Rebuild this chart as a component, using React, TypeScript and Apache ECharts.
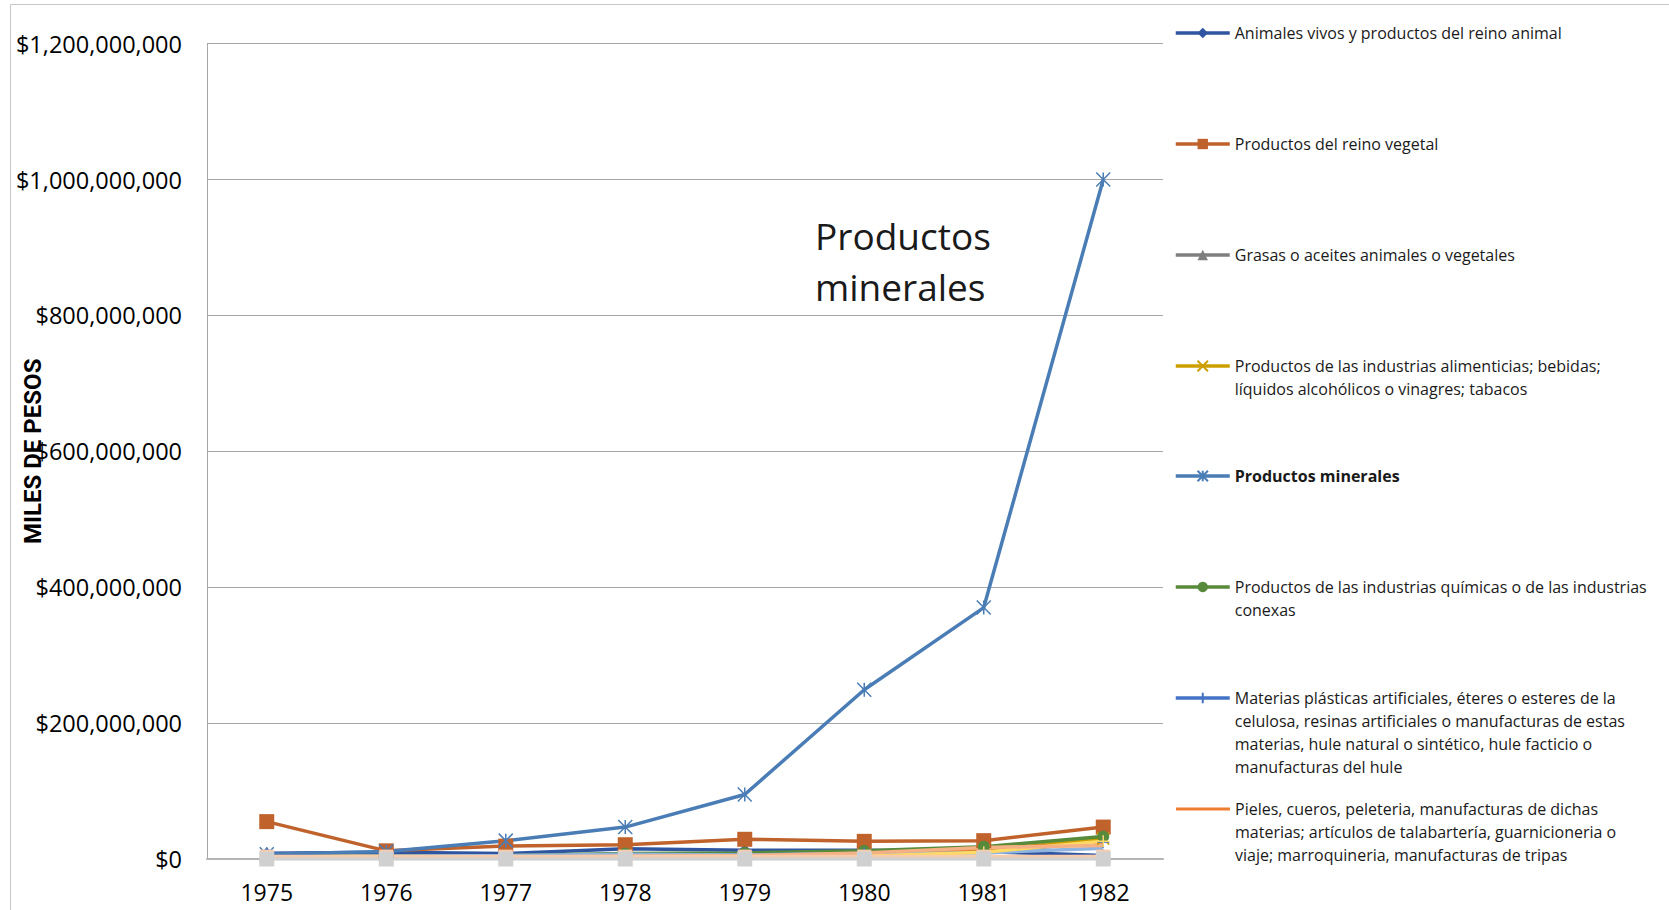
import React, { useEffect, useRef } from 'react';
import * as echarts from 'echarts';

const years = ['1975', '1976', '1977', '1978', '1979', '1980', '1981', '1982'];

// Miles de pesos
const animales = [8500000, 10000000, 8000000, 15000000, 13000000, 13000000, 11000000, 5000000];
const vegetal = [55000000, 12000000, 19000000, 21000000, 29000000, 26000000, 27000000, 47000000];
const grasas = [1000000, 1200000, 1500000, 1500000, 1000000, 1500000, 2000000, 3000000];
const alimenticias = [4000000, 4000000, 4000000, 5000000, 3000000, 6000000, 12000000, 30000000];
const minerales = [7000000, 11000000, 27000000, 47000000, 95000000, 249000000, 370000000, 1000000000];
const quimicas = [3000000, 4000000, 5000000, 8000000, 9000000, 12000000, 18000000, 33000000];
const plasticas = [2000000, 3000000, 3000000, 6000000, 6000000, 8000000, 10000000, 25000000];
const pieles = [1000000, 1500000, 2000000, 3000000, 4000000, 7000000, 16000000, 22000000];
const madera = [3000000, 4000000, 5000000, 7000000, 6000000, 8000000, 9000000, 16000000];
const papel = [1000000, 1000000, 1500000, 2000000, 2000000, 4000000, 10000000, 26000000];
const textiles = [2000000, 2000000, 3000000, 4000000, 5000000, 9000000, 17000000, 20000000];
const calzado = [1000000, 1000000, 1000000, 1000000, 1000000, 1000000, 1500000, 4000000];
const piedra = [3500000, 3500000, 3500000, 3500000, 3500000, 3500000, 3500000, 3500000];
const perlas = [0, 0, 0, 0, 0, 0, 0, 0];

const names = [
  'Animales vivos y productos del reino animal',
  'Productos del reino vegetal',
  'Grasas o aceites animales o vegetales',
  'Productos de las industrias alimenticias; bebidas; líquidos alcohólicos o vinagres; tabacos',
  'Productos minerales',
  'Productos de las industrias químicas o de las industrias conexas',
  'Materias plásticas artificiales, éteres o esteres de la celulosa, resinas artificiales o manufacturas de estas materias, hule natural o sintético, hule facticio o manufacturas del hule',
  'Pieles, cueros, peleteria, manufacturas de dichas materias; artículos de talabartería, guarnicioneria o viaje; marroquineria, manufacturas de tripas',
  'Madera, carbón vegetal, corcho y sus manufacturas',
  'Materias utilizadas en la fabricación de papel; papel y sus aplicaciones',
  'Materias textiles y sus manufacturas',
  'Calzado, sombrerería, paraguas y quitasoles',
  'Manufacturas de piedra, yeso, cemento, cerámica y vidrio',
  'Perlas finas, piedras preciosas y metales preciosos',
];

const wrapped = [
  'Animales vivos y productos del reino animal',
  'Productos del reino vegetal',
  'Grasas o aceites animales o vegetales',
  'Productos de las industrias alimenticias; bebidas;\nlíquidos alcohólicos o vinagres; tabacos',
  'Productos minerales',
  'Productos de las industrias químicas o de las industrias\nconexas',
  'Materias plásticas artificiales, éteres o esteres de la\ncelulosa, resinas artificiales o manufacturas de estas\nmaterias, hule natural o sintético, hule facticio o\nmanufacturas del hule',
  'Pieles, cueros, peleteria, manufacturas de dichas\nmaterias; artículos de talabartería, guarnicioneria o\nviaje; marroquineria, manufacturas de tripas',
];

const values = [animales, vegetal, grasas, alimenticias, minerales, quimicas, plasticas, pieles, madera, papel, textiles, calzado, piedra, perlas];

const STAR = 'path://M0,0L10,10M10,0L0,10M5,0L5,10';
const XMARK = 'path://M0,0L10,10M10,0L0,10';
const PLUS = 'path://M5,0L5,10M0,5L10,5';

const styles = [
  { color: '#2F55A0', symbol: 'diamond', size: 12 },
  { color: '#C0622B', symbol: 'rect', size: 15 },
  { color: '#7F7F7F', symbol: 'triangle', size: 12 },
  { color: '#CC9F00', symbol: XMARK, size: 12, stroke: true },
  { color: '#4A7DB5', symbol: STAR, size: 14, stroke: true },
  { color: '#578A3A', symbol: 'circle', size: 12 },
  { color: '#4472C4', symbol: PLUS, size: 12, stroke: true },
  { color: '#ED7D31', symbol: 'none', size: 0 },
  { color: '#8FB4E0', symbol: 'none', size: 0 },
  { color: '#FFD966', symbol: PLUS, size: 12, stroke: true },
  { color: '#F4B183', symbol: 'none', size: 0 },
  { color: '#7F8FC8', symbol: 'none', size: 0 },
  { color: '#F8CBAD', symbol: 'rect', size: 14 },
  { color: '#D0D0D0', symbol: 'rect', size: 15 },
];

const FONT = '"Open Sans", "Noto Sans", sans-serif';
const LEGEND_Y = [33, 144, 255, 366, 476, 587, 698, 809];
const LH = 23;

function fmt(v: number) {
  return '$' + Math.round(v).toString().replace(/\B(?=(\d{3})+(?!\d))/g, ',');
}

export default function App() {
  const ref = useRef<HTMLDivElement>(null);
  useEffect(() => {
    if (!ref.current) return;
    const chart = echarts.init(ref.current, null, { renderer: 'svg' });

    const series = values.map((d, i) => {
      const s = styles[i];
      return {
        name: names[i],
        type: 'line',
        data: d,
        symbol: s.symbol,
        symbolSize: s.size,
        showSymbol: s.symbol !== 'none',
        lineStyle: { color: s.color, width: 3.5 },
        itemStyle: s.stroke
          ? { color: s.color, borderColor: s.color, borderWidth: 1.5 }
          : { color: s.color, borderColor: s.color, borderWidth: 0 },
        emphasis: { disabled: true },
        z: 2,
      };
    });

    const legends = wrapped.map((w, i) => {
      const n = w.split('\n').length;
      const H = (2 * n - 1) * LH;
      const isPieles = i === 7;
      const txt = '\n'.repeat(n - 1) + w;
      return {
        orient: 'vertical',
        left: isPieles ? 1176 : 1174,
        top: LEGEND_Y[i] - H / 2,
        padding: 0,
        itemGap: 0,
        itemWidth: 54,
        itemHeight: isPieles ? 3 : 13,
        selectedMode: false,
        formatter: () => txt,
        lineStyle: { width: 3.5 },
        textStyle: {
          fontFamily: FONT,
          fontSize: 16,
          color: '#1a1a1a',
          lineHeight: LH,
          fontWeight: i === 4 ? 'bold' : 'normal',
        },
        data: [
          isPieles
            ? { name: names[i], icon: 'rect', itemStyle: { color: styles[i].color, borderWidth: 0 } }
            : { name: names[i] },
        ],
      };
    });

    chart.setOption({
      animation: false,
      backgroundColor: '#ffffff',
      grid: { left: 207, right: 506, top: 43.6, bottom: 51, outerBoundsMode: 'none', containLabel: false },
      legend: legends,
      xAxis: {
        type: 'category',
        data: years,
        boundaryGap: true,
        axisLine: { show: true, lineStyle: { color: '#B4B4B4', width: 2 } },
        axisTick: { show: false },
        axisLabel: { color: '#000', fontFamily: FONT, fontSize: 23, margin: 21 },
        z: 1,
      },
      yAxis: {
        type: 'value',
        min: 0,
        max: 1200000000,
        interval: 200000000,
        name: 'MILES DE PESOS',
        nameLocation: 'middle',
        nameGap: 162,
        nameRotate: 90,
        nameMoveOverlap: false,
        nameTextStyle: {
          fontFamily: '"Liberation Sans Narrow", "Roboto", sans-serif',
          fontWeight: 'bold',
          fontSize: 24,
          color: '#000',
        },
        axisLine: { show: true, lineStyle: { color: '#A6A6A6', width: 1 } },
        axisTick: { show: false },
        splitLine: { show: true, lineStyle: { color: '#A6A6A6', width: 1 } },
        axisLabel: {
          color: '#000',
          fontFamily: FONT,
          fontSize: 23.5,
          margin: 25,
          formatter: (v: number) => fmt(v),
        },
      },
      graphic: [
        {
          type: 'rect',
          shape: { x: 10.5, y: 4.5, width: 1800, height: 1000 },
          style: { fill: 'none', stroke: '#C8C8C8', lineWidth: 1 },
          silent: true,
          z: -1,
        },
        {
          type: 'text',
          left: 815,
          top: 210,
          style: {
            text: 'Productos\nminerales',
            fontFamily: FONT,
            fontSize: 37,
            lineHeight: 51,
            fill: '#1a1a1a',
          },
        },
      ],
      series,
    });
    return () => chart.dispose();
  }, []);

  return (
    <div
      ref={ref}
      style={{ position: 'fixed', left: 0, top: 0, width: 1669, height: 910, background: '#fff' }}
    />
  );
}
